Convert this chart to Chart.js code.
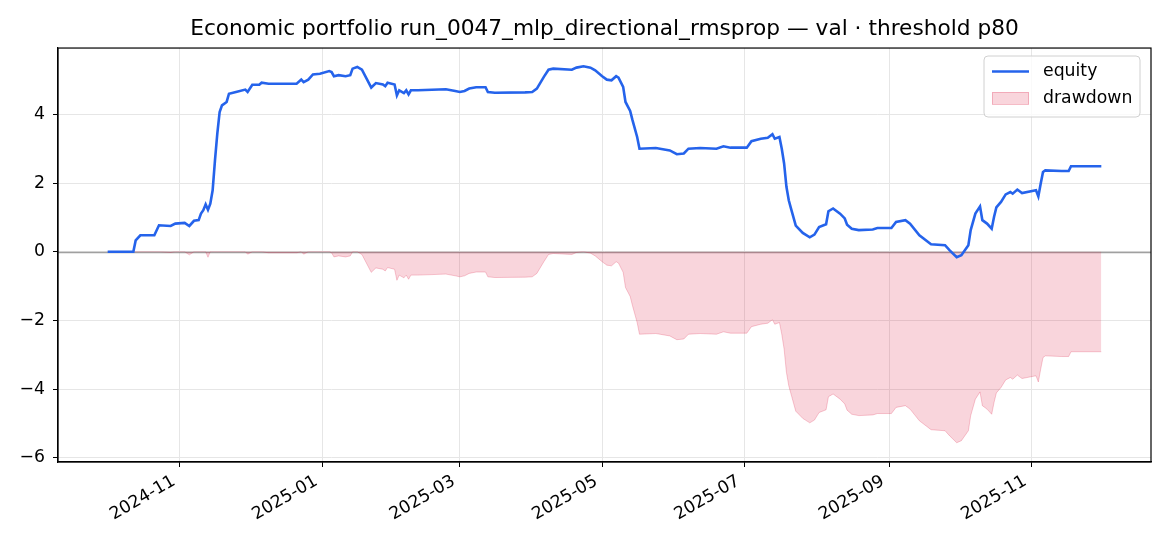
<!DOCTYPE html>
<html><head><meta charset="utf-8">
<script src="https://cdn.jsdelivr.net/npm/chart.js@4/dist/chart.umd.min.js"></script>
<style>html,body{margin:0;padding:0;background:#fff;}canvas{display:block;}</style>
</head><body>
<canvas id="c" width="1170" height="546"></canvas>
<script>
const titleText = 'Economic portfolio run_0047_mlp_directional_rmsprop — val · threshold p80';
const seriesLabels = ['equity', 'drawdown'];

const dates = [
'2024-10-01','2024-10-12','2024-10-13','2024-10-15','2024-10-21','2024-10-23','2024-10-28','2024-10-30',
'2024-11-03','2024-11-05','2024-11-07','2024-11-09','2024-11-10','2024-11-11','2024-11-12','2024-11-13',
'2024-11-14','2024-11-15','2024-11-16','2024-11-17','2024-11-18','2024-11-19','2024-11-21','2024-11-22',
'2024-11-25','2024-11-29','2024-11-30','2024-12-02','2024-12-05','2024-12-06','2024-12-09','2024-12-21',
'2024-12-23','2024-12-24','2024-12-26','2024-12-28','2024-12-31','2025-01-04','2025-01-05','2025-01-06',
'2025-01-08','2025-01-11','2025-01-13','2025-01-14','2025-01-16','2025-01-18','2025-01-20','2025-01-22',
'2025-01-24','2025-01-27','2025-01-28','2025-01-29','2025-02-01','2025-02-02','2025-02-03','2025-02-05',
'2025-02-06','2025-02-07','2025-02-08','2025-02-11','2025-02-23','2025-02-27','2025-03-01','2025-03-03',
'2025-03-05','2025-03-08','2025-03-12','2025-03-13','2025-03-16','2025-03-29','2025-04-01','2025-04-03',
'2025-04-06','2025-04-08','2025-04-10','2025-04-18','2025-04-20','2025-04-23','2025-04-26','2025-04-28',
'2025-05-01','2025-05-03','2025-05-05','2025-05-07','2025-05-08','2025-05-10','2025-05-11','2025-05-13',
'2025-05-14','2025-05-16','2025-05-17','2025-05-24','2025-05-30','2025-06-02','2025-06-05','2025-06-07',
'2025-06-12','2025-06-19','2025-06-22','2025-06-25','2025-07-02','2025-07-04','2025-07-08','2025-07-11',
'2025-07-13','2025-07-14','2025-07-16','2025-07-17','2025-07-18','2025-07-19','2025-07-20','2025-07-21',
'2025-07-23','2025-07-26','2025-07-29','2025-07-31','2025-08-02','2025-08-05','2025-08-06','2025-08-08',
'2025-08-11','2025-08-13','2025-08-14','2025-08-16','2025-08-19','2025-08-25','2025-08-27','2025-09-02',
'2025-09-04','2025-09-08','2025-09-10','2025-09-14','2025-09-19','2025-09-25','2025-09-27','2025-09-30',
'2025-10-02','2025-10-05','2025-10-06','2025-10-08','2025-10-10','2025-10-11','2025-10-13','2025-10-15',
'2025-10-16','2025-10-17','2025-10-19','2025-10-21','2025-10-23','2025-10-24','2025-10-26','2025-10-28',
'2025-11-03','2025-11-04','2025-11-05','2025-11-06','2025-11-07','2025-11-14','2025-11-17','2025-11-18',
'2025-12-01'
];

const equity = [
0.00,0.00,0.33,0.48,0.48,0.77,0.75,0.82,
0.84,0.75,0.90,0.92,1.11,1.21,1.38,1.22,
1.40,1.79,2.66,3.44,4.07,4.26,4.36,4.60,
4.65,4.72,4.65,4.86,4.86,4.92,4.89,4.89,
5.01,4.94,5.01,5.16,5.18,5.26,5.23,5.11,
5.14,5.11,5.14,5.33,5.38,5.30,5.04,4.78,
4.91,4.87,4.82,4.92,4.87,4.55,4.70,4.62,
4.70,4.58,4.70,4.70,4.73,4.68,4.65,4.68,
4.75,4.79,4.79,4.65,4.63,4.64,4.65,4.75,
5.09,5.30,5.33,5.30,5.36,5.40,5.36,5.28,
5.11,5.01,4.99,5.11,5.07,4.80,4.36,4.10,
3.83,3.34,3.00,3.02,2.95,2.84,2.86,3.00,
3.02,3.00,3.07,3.03,3.03,3.22,3.29,3.32,
3.42,3.29,3.34,3.00,2.57,1.89,1.50,1.25,
0.76,0.55,0.42,0.50,0.72,0.80,1.18,1.26,
1.11,0.97,0.79,0.67,0.63,0.65,0.69,0.69,
0.87,0.92,0.82,0.48,0.22,0.19,0.04,-0.16,
-0.10,0.19,0.63,1.11,1.32,0.92,0.82,0.67,
1.01,1.29,1.45,1.67,1.74,1.69,1.81,1.71,
1.79,1.61,1.98,2.32,2.37,2.35,2.35,2.49,
2.49
];

const drawdown = [
0.00,0.00,0.00,0.00,0.00,0.00,-0.02,0.00,
0.00,-0.09,0.00,0.00,0.00,0.00,0.00,-0.16,
0.00,0.00,0.00,0.00,0.00,0.00,0.00,0.00,
0.00,0.00,-0.07,0.00,0.00,0.00,-0.03,-0.03,
0.00,-0.07,0.00,0.00,0.00,0.00,-0.03,-0.15,
-0.12,-0.15,-0.12,0.00,0.00,-0.08,-0.34,-0.60,
-0.47,-0.51,-0.56,-0.46,-0.51,-0.83,-0.68,-0.76,
-0.68,-0.80,-0.68,-0.68,-0.65,-0.70,-0.73,-0.70,
-0.63,-0.59,-0.59,-0.73,-0.75,-0.74,-0.73,-0.63,
-0.29,-0.08,-0.05,-0.08,-0.02,0.00,-0.04,-0.12,
-0.29,-0.39,-0.41,-0.29,-0.33,-0.60,-1.04,-1.30,
-1.57,-2.06,-2.40,-2.38,-2.45,-2.56,-2.54,-2.40,
-2.38,-2.40,-2.33,-2.37,-2.37,-2.18,-2.11,-2.08,
-1.98,-2.11,-2.06,-2.40,-2.83,-3.51,-3.90,-4.15,
-4.64,-4.85,-4.98,-4.90,-4.68,-4.60,-4.22,-4.14,
-4.29,-4.43,-4.61,-4.73,-4.77,-4.75,-4.71,-4.71,
-4.53,-4.48,-4.58,-4.92,-5.18,-5.21,-5.36,-5.56,
-5.50,-5.21,-4.77,-4.29,-4.08,-4.48,-4.58,-4.73,
-4.39,-4.11,-3.95,-3.73,-3.66,-3.71,-3.59,-3.69,
-3.61,-3.79,-3.42,-3.08,-3.03,-3.05,-3.05,-2.91,
-2.91
];

const xTickLabels = ['2024-11','2025-01','2025-03','2025-05','2025-07','2025-09','2025-11'];
const yTickValues = [-6,-4,-2,0,2,4];

const T0 = Date.UTC(2024, 9, 1);
const toDay = s => (Date.parse(s + 'T00:00:00Z') - T0) / 864e5;
const xs = dates.map(toDay);
const xTickValues = xTickLabels.map(l => toDay(l + '-01'));
const span = xs[xs.length - 1] - xs[0];
const xMin = xs[0] - 0.05 * span, xMax = xs[xs.length - 1] + 0.05 * span;

const FONT = 'DejaVu Sans';
const TICK_SIZE = 17.3;

const framePlugin = {
  id: 'frame',
  beforeDatasetsDraw(chart) {
    const {ctx, chartArea: a, scales: {y}} = chart;
    const y0 = Math.round(y.getPixelForValue(0)) + 0.5;
    ctx.save();
    ctx.strokeStyle = 'rgba(128,128,128,0.75)';
    ctx.lineWidth = 1.3;
    ctx.beginPath(); ctx.moveTo(a.left, y0); ctx.lineTo(a.right, y0); ctx.stroke();
    ctx.restore();
  },
  afterDraw(chart) {
    const {ctx, chartArea: a} = chart;
    ctx.save();
    ctx.strokeStyle = '#000'; ctx.lineWidth = 1.2;
    ctx.strokeRect(a.left, a.top, a.right - a.left, a.bottom - a.top);
    // legend
    const bx = 984, by = 56, bw = 156, bh = 61, r = 4;
    ctx.beginPath();
    ctx.moveTo(bx + r, by); ctx.lineTo(bx + bw - r, by); ctx.arcTo(bx + bw, by, bx + bw, by + r, r);
    ctx.lineTo(bx + bw, by + bh - r); ctx.arcTo(bx + bw, by + bh, bx + bw - r, by + bh, r);
    ctx.lineTo(bx + r, by + bh); ctx.arcTo(bx, by + bh, bx, by + bh - r, r);
    ctx.lineTo(bx, by + r); ctx.arcTo(bx, by, bx + r, by, r); ctx.closePath();
    ctx.fillStyle = 'rgba(255,255,255,0.8)'; ctx.fill();
    ctx.strokeStyle = '#d0d0d0'; ctx.lineWidth = 1; ctx.stroke();
    const ds = chart.data.datasets;
    ctx.strokeStyle = ds[0].borderColor; ctx.lineWidth = 2.6;
    ctx.beginPath(); ctx.moveTo(992, 71.5); ctx.lineTo(1029, 71.5); ctx.stroke();
    ctx.fillStyle = ds[1].backgroundColor; ctx.fillRect(992, 92, 37, 12.5);
    ctx.strokeStyle = 'rgba(220,20,60,0.22)'; ctx.lineWidth = 1; ctx.strokeRect(992.5, 92.5, 36, 12);
    ctx.fillStyle = '#000'; ctx.font = TICK_SIZE + 'px "' + FONT + '"';
    ctx.textBaseline = 'middle'; ctx.textAlign = 'left';
    ctx.fillText(ds[0].label, 1043, 71.5);
    ctx.fillText(ds[1].label, 1043, 98.5);
    ctx.restore();
  }
};

new Chart(document.getElementById('c'), {
  type: 'line',
  data: {
    datasets: [
      {
        label: seriesLabels[0],
        data: xs.map((x, i) => ({x, y: equity[i]})),
        borderColor: '#2563eb', borderWidth: 2.6, pointRadius: 0, tension: 0, fill: false, order: 0
      },
      {
        label: seriesLabels[1],
        data: xs.map((x, i) => ({x, y: drawdown[i]})),
        borderColor: 'rgba(220,20,60,0.22)', backgroundColor: 'rgba(220,20,60,0.18)',
        borderWidth: 1, pointRadius: 0, tension: 0, fill: 'origin', order: 1
      }
    ]
  },
  options: {
    responsive: false, animation: false, devicePixelRatio: 1,
    layout: {padding: {left: 0, right: 19, top: 0, bottom: 0}},
    plugins: {
      legend: {display: false},
      tooltip: {enabled: false},
      title: {
        display: true, text: titleText, fullSize: false, color: '#000',
        font: {family: FONT, size: 21.7, weight: 'normal', lineHeight: 1.2},
        padding: {top: 16.5, bottom: 5.5}
      }
    },
    scales: {
      x: {
        type: 'linear', min: xMin, max: xMax,
        afterBuildTicks: s => { s.ticks = xTickValues.map(v => ({value: v})); },
        afterFit: s => { s.height = 84; },
        ticks: {
          autoSkip: false, maxRotation: 30, minRotation: 30, color: '#000', padding: 4, labelOffset: -6,
          font: {family: FONT, size: TICK_SIZE},
          callback: (v) => { const i = xTickValues.indexOf(v); return i >= 0 ? xTickLabels[i] : ''; }
        },
        grid: {color: '#e6e6e6', lineWidth: 1, tickColor: '#000', tickLength: 5, drawTicks: true},
        border: {display: true, color: '#000', width: 1.2}
      },
      y: {
        min: -6.12, max: 5.93,
        afterBuildTicks: s => { s.ticks = yTickValues.map(v => ({value: v})); },
        afterFit: s => { s.width = 58; },
        ticks: {
          color: '#000', padding: 8, font: {family: FONT, size: TICK_SIZE},
          callback: v => (v < 0 ? '\u2212' + Math.abs(v) : String(v))
        },
        grid: {color: '#e6e6e6', lineWidth: 1, tickColor: '#000', tickLength: 5, drawTicks: true},
        border: {display: true, color: '#000', width: 1.2}
      }
    }
  },
  plugins: [framePlugin]
});
</script>
</body></html>
